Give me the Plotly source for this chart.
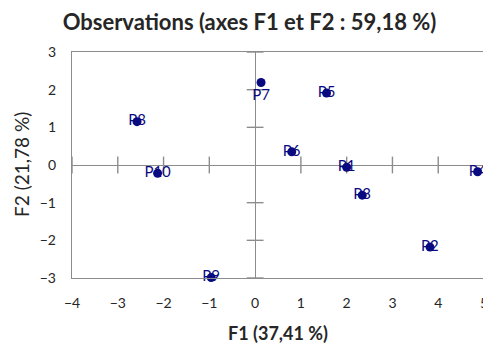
import plotly.graph_objects as go

labels = ["P1", "P2", "P3", "P4", "P5", "P6", "P7", "P8", "P9", "P10"]
f1 = [2.00, 3.82, 2.34, 4.86, 1.56, 0.80, 0.13, -2.58, -0.96, -2.13]
f2 = [-0.06, -2.18, -0.80, -0.18, 1.91, 0.35, 2.19, 1.15, -2.99, -0.22]
text_pos = ["middle center"] * 6 + ["bottom center"] + ["middle center"] * 3

x_ticks = [-4, -3, -2, -1, 0, 1, 2, 3, 4, 5]
y_ticks = [-3, -2, -1, 0, 1, 2, 3]

title_text = "Observations (axes F1 et F2 : 59,18 %)"
x_title = "F1 (37,41 %)"
y_title = "F2 (21,78 %)"

navy = "#0A0A80"
axis_gray = "#8C8C8C"
text_dark = "#262626"
font_family = "Lato, 'Open Sans', sans-serif"

# the page body adds an 8px offset; figure sized to fill the rest of the window
W, H = 483, 337
ML, MT, PW, PH = 64, 44, 412, 226

fig = go.Figure()

# tick marks crossing the zero lines (Excel style)
fig.add_trace(go.Scatter(
    x=[t for t in x_ticks if t != 0], y=[0] * (len(x_ticks) - 1),
    mode="markers", hoverinfo="skip", showlegend=False, cliponaxis=False,
    marker=dict(symbol="line-ns-open", size=12, color=axis_gray,
                line=dict(color=axis_gray, width=1.4)),
))
fig.add_trace(go.Scatter(
    x=[0] * (len(y_ticks) - 1), y=[t for t in y_ticks if t != 0],
    mode="markers", hoverinfo="skip", showlegend=False, cliponaxis=False,
    marker=dict(symbol="line-ew-open", size=12, color=axis_gray,
                line=dict(color=axis_gray, width=1.4)),
))

fig.add_trace(go.Scatter(
    x=f1, y=f2, text=labels, mode="markers+text",
    textposition=text_pos, cliponaxis=False,
    textfont=dict(color=navy, size=15, family=font_family),
    marker=dict(color=navy, size=9),
    showlegend=False,
))

fig.update_layout(
    width=W, height=H,
    margin=dict(l=ML, r=W - ML - PW, t=MT, b=H - MT - PH, autoexpand=False),
    paper_bgcolor="white", plot_bgcolor="white",
    font=dict(family=font_family, color=text_dark),
    title=dict(text="<b>" + title_text + "</b>", x=0.5, xanchor="center",
               y=1 - 14 / H, yanchor="middle",
               font=dict(size=22, color=text_dark, family=font_family)),
    annotations=[
        dict(text="<b>" + x_title + "</b>", xref="paper", yref="paper",
             x=0.5, y=-55 / PH, xanchor="center", yanchor="middle",
             showarrow=False, font=dict(size=18, color=text_dark)),
        dict(text=y_title, xref="paper", yref="paper",
             x=-51 / PW, y=0.5, xanchor="center", yanchor="middle",
             textangle=-90, showarrow=False, font=dict(size=19, color=text_dark)),
    ],
)
fig.update_xaxes(
    range=[-4, 5], tickvals=x_ticks, showgrid=False, automargin=False,
    showline=True, mirror=True, linecolor=axis_gray, linewidth=1.4,
    zeroline=True, zerolinecolor=axis_gray, zerolinewidth=1.4,
    ticks="", ticklabelstandoff=12, tickfont=dict(size=14, color=text_dark),
)
fig.update_yaxes(
    range=[-3, 3], tickvals=y_ticks, showgrid=False, automargin=False,
    showline=True, mirror=True, linecolor=axis_gray, linewidth=1.4,
    zeroline=True, zerolinecolor=axis_gray, zerolinewidth=1.4,
    ticks="", ticklabelstandoff=12, tickfont=dict(size=14, color=text_dark),
)

fig.write_html("out.html")
